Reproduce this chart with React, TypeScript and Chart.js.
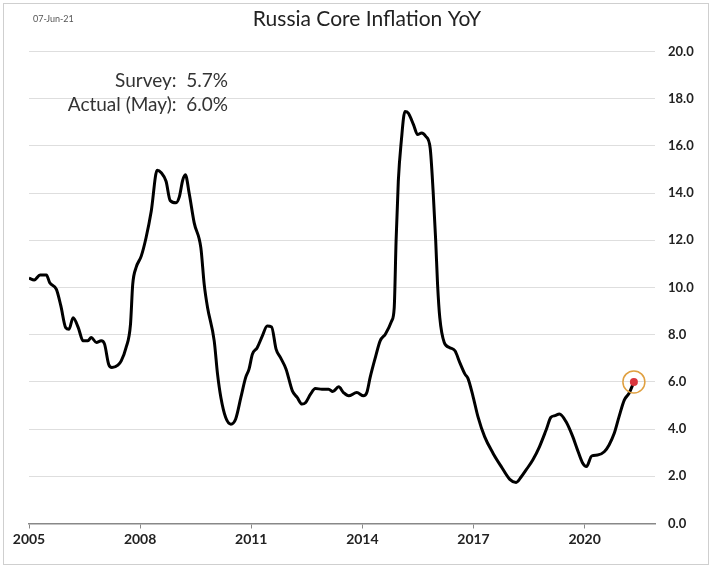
import React, { useEffect, useRef } from "react";
import { Chart, registerables } from "chart.js";

Chart.register(...registerables);

const TITLE = "Russia Core Inflation YoY";
const DATE_LABEL = "07-Jun-21";
const NOTE_LINES = ["Survey:  5.7%", "Actual (May):  6.0%"];

const dates = [
  2005.0, 2005.14, 2005.3, 2005.47, 2005.56, 2005.74, 2005.86, 2005.99, 2006.08, 2006.19,
  2006.33, 2006.46, 2006.59, 2006.68, 2006.82, 2006.95, 2007.04, 2007.15, 2007.24, 2007.4,
  2007.49, 2007.62, 2007.74, 2007.8, 2007.89, 2008.03, 2008.16, 2008.3, 2008.46, 2008.57,
  2008.7, 2008.81, 2008.97, 2009.06, 2009.15, 2009.22, 2009.33, 2009.46, 2009.64, 2009.73,
  2009.82, 2010.0, 2010.09, 2010.18, 2010.31, 2010.45, 2010.58, 2010.72, 2010.85, 2010.94,
  2011.03, 2011.16, 2011.3, 2011.43, 2011.55, 2011.67, 2011.79, 2011.94, 2012.11, 2012.24,
  2012.37, 2012.47, 2012.6, 2012.73, 2012.91, 2013.09, 2013.2, 2013.36, 2013.49, 2013.63,
  2013.85, 2014.03, 2014.12, 2014.21, 2014.35, 2014.48, 2014.62, 2014.79, 2014.86, 2014.91,
  2014.97, 2015.05, 2015.15, 2015.24, 2015.38, 2015.49, 2015.6, 2015.71, 2015.83, 2015.91,
  2015.98, 2016.03, 2016.09, 2016.21, 2016.36, 2016.5, 2016.63, 2016.77, 2016.85, 2016.99,
  2017.12, 2017.3, 2017.53, 2017.75, 2017.98, 2018.15, 2018.29, 2018.42, 2018.6, 2018.78,
  2018.96, 2019.09, 2019.2, 2019.32, 2019.5, 2019.68, 2019.81, 2019.95, 2020.05, 2020.19,
  2020.35, 2020.53, 2020.66, 2020.8, 2020.93, 2021.07, 2021.2, 2021.33,
];

const coreInflation = [
  10.4, 10.32, 10.53, 10.53, 10.2, 9.92, 9.22, 8.3, 8.23, 8.72,
  8.3, 7.74, 7.74, 7.88, 7.67, 7.74, 7.6, 6.75, 6.61, 6.71,
  6.89, 7.45, 8.44, 10.13, 10.84, 11.33, 12.11, 13.23, 14.97, 14.86,
  14.5, 13.69, 13.59, 13.85, 14.55, 14.78, 13.94, 12.74, 11.68, 10.13,
  9.15, 7.74, 6.33, 5.34, 4.49, 4.21, 4.43, 5.34, 6.19, 6.54,
  7.17, 7.45, 7.95, 8.37, 8.33, 7.39, 7.03, 6.54, 5.62, 5.34,
  5.06, 5.13, 5.48, 5.72, 5.69, 5.69, 5.59, 5.79, 5.55, 5.41,
  5.55, 5.41, 5.55, 6.19, 7.03, 7.74, 8.02, 8.58, 9.15, 11.97,
  14.5, 16.19, 17.46, 17.39, 16.9, 16.48, 16.55, 16.41, 15.91, 14.08,
  11.97, 10.13, 8.72, 7.67, 7.45, 7.32, 6.82, 6.33, 6.15, 5.37,
  4.53, 3.68, 2.97, 2.41, 1.87, 1.74, 1.98, 2.27, 2.69, 3.25,
  3.96, 4.5, 4.57, 4.64, 4.31, 3.68, 3.11, 2.55, 2.41, 2.86,
  2.9, 3.04, 3.33, 3.82, 4.53, 5.23, 5.52, 6.0,
];

const xTickYears = [2005, 2008, 2011, 2014, 2017, 2020];
const yTickValues = [0, 2, 4, 6, 8, 10, 12, 14, 16, 18, 20];

const FONT = "Lato, 'Open Sans', sans-serif";

const overlayPlugin = {
  id: "overlay",
  afterDraw(chart: any) {
    const ctx = chart.ctx;
    ctx.save();
    // outer border
    ctx.strokeStyle = "#cfcfcf";
    ctx.lineWidth = 1;
    ctx.strokeRect(3.5, 3.5, 705, 561);
    // date
    ctx.fillStyle = "#555";
    ctx.font = `9px ${FONT}`;
    ctx.textAlign = "left";
    ctx.textBaseline = "middle";
    ctx.fillText(DATE_LABEL, 33, 19);
    // title
    ctx.fillStyle = "#222";
    ctx.font = `21px ${FONT}`;
    ctx.textAlign = "center";
    ctx.fillText(TITLE, 367, 19);
    // notes
    ctx.fillStyle = "#333";
    ctx.font = `19px ${FONT}`;
    ctx.textAlign = "right";
    ctx.fillText(NOTE_LINES[0], 228, 81);
    ctx.fillText(NOTE_LINES[1], 228, 105);
    ctx.restore();
  },
};

export default function App() {
  const ref = useRef<HTMLCanvasElement | null>(null);

  useEffect(() => {
    if (!ref.current) return;
    const series = dates.map((x, i) => ({ x, y: coreInflation[i] }));
    const last = series[series.length - 1];
    const chart = new Chart(ref.current, {
      type: "line",
      data: {
        datasets: [
          {
            data: [last],
            pointRadius: 4,
            pointBackgroundColor: "#d9363e",
            pointBorderColor: "#d9363e",
            pointBorderWidth: 0,
            showLine: false,
            order: 0,
          },
          {
            data: [last],
            pointRadius: 11,
            pointBackgroundColor: "rgba(0,0,0,0)",
            pointBorderColor: "#e0a040",
            pointBorderWidth: 1.5,
            showLine: false,
            order: 1,
          },
          {
            data: series,
            borderColor: "#000",
            borderWidth: 3,
            pointRadius: 0,
            tension: 0.3,
            cubicInterpolationMode: "monotone",
            fill: false,
            order: 2,
          },
        ],
      },
      options: {
        responsive: false,
        animation: false,
        layout: { padding: { left: 29, top: 51.5, right: 0, bottom: 0 } },
        plugins: {
          legend: { display: false },
          title: { display: false },
          tooltip: { enabled: false },
        },
        scales: {
          x: {
            type: "linear",
            min: 2005,
            max: 2021.9,
            afterFit: (s: any) => {
              s.height = 48.5;
            },
            afterBuildTicks: (s: any) => {
              s.ticks = xTickYears.map((v) => ({ value: v }));
            },
            grid: {
              display: true,
              drawOnChartArea: false,
              drawTicks: true,
              tickLength: 5,
              color: "#888",
            },
            border: { display: true, color: "#888", width: 1.5 },
            ticks: {
              padding: 3,
              color: "#222",
              maxRotation: 0,
              autoSkip: false,
              font: { family: FONT, size: 14, weight: "bold" },
              callback: (v: any) => String(v),
            },
          },
          y: {
            position: "right",
            min: 0,
            max: 20,
            afterFit: (s: any) => {
              s.width = 58;
            },
            afterBuildTicks: (s: any) => {
              s.ticks = yTickValues.map((v) => ({ value: v }));
            },
            grid: { color: "#dedede", lineWidth: 1, drawTicks: false },
            border: { display: false },
            ticks: {
              padding: 13,
              color: "#222",
              font: { family: FONT, size: 13, weight: "bold" },
              callback: (v: any) => Number(v).toFixed(1),
            },
          },
        },
      },
      plugins: [overlayPlugin],
    } as any);
    return () => chart.destroy();
  }, []);

  return (
    <div style={{ position: "absolute", left: 0, top: 0, width: 713, height: 572, background: "#fff" }}>
      <canvas ref={ref} width={713} height={572} style={{ display: "block" }} />
    </div>
  );
}
